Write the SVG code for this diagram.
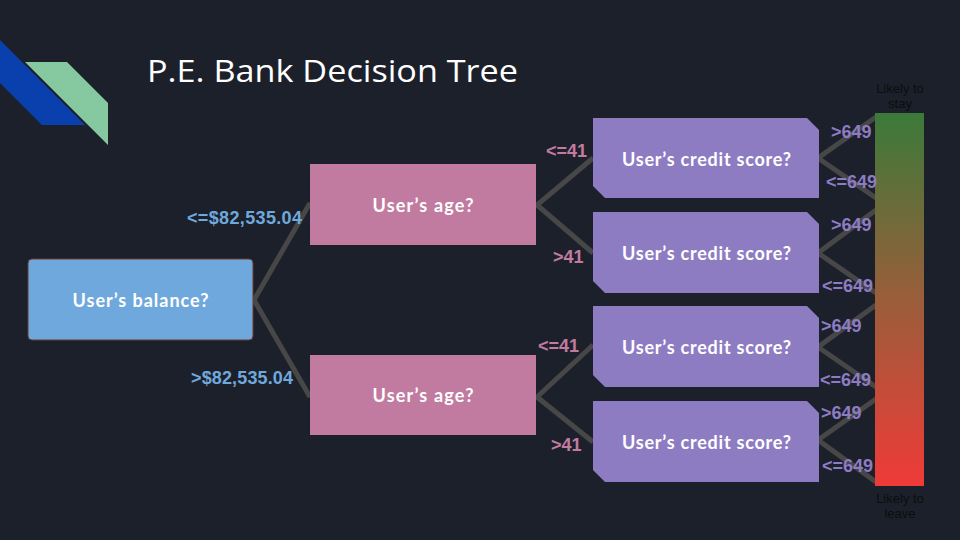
<svg xmlns="http://www.w3.org/2000/svg" width="960" height="540" viewBox="0 0 960 540">
<defs>
<linearGradient id="bar" x1="0" y1="0" x2="0" y2="1">
<stop offset="0" stop-color="#3b7a3a"/>
<stop offset="0.5" stop-color="#9a5e3a"/>
<stop offset="1" stop-color="#f03a38"/>
</linearGradient>
<style>
.node{font-family:Lato,"Open Sans",sans-serif;font-weight:bold;font-size:18px;fill:#ffffff;text-anchor:middle}
.lbl{font-family:"Liberation Sans",Arial,sans-serif;font-weight:bold;font-size:18px}
.blue{fill:#6fa8dc}
.pink{fill:#c27ba0}
.purp{fill:#8e7cc3}
.conn{fill:none;stroke:#474747;stroke-width:5;stroke-linejoin:miter}
.note{font-family:"Liberation Sans",Arial,sans-serif;font-size:13px;fill:#0c0d10;text-anchor:middle}
</style>
</defs>
<rect width="960" height="540" fill="#1c202a"/>
<polygon points="0,40 85,125 42,125 0,83" fill="#0a3fae"/>
<polygon points="25,62 67,62 108,103 108,145" fill="#86c9a0"/>
<text x="147" y="82" font-family="'Open Sans',sans-serif" font-size="31" fill="#ffffff" textLength="371" lengthAdjust="spacingAndGlyphs">P.E. Bank Decision Tree</text>

<g id="connectors">
<polyline class="conn" points="310,203 254,300 310,397"/>
<polyline class="conn" points="593,158 537,205 593,253"/>
<polyline class="conn" points="593,345 537,397 593,442"/>
<polyline class="conn" points="876,117 818,158 876,198"/>
<polyline class="conn" points="876,210 818,253 876,293"/>
<polyline class="conn" points="876,305 818,347 876,387"/>
<polyline class="conn" points="876,399 818,440 876,482"/>
</g>

<g id="balance">
<rect x="28" y="259" width="225" height="81" rx="4" fill="#6fa8dc" stroke="#6b3a2c" stroke-width="1"/>
<text class="node" x="140.5" y="307" textLength="136">User’s balance?</text>
</g>
<g id="age1">
<rect x="310" y="164" width="226" height="81" fill="#c27ba0"/>
<text class="node" x="423" y="212" textLength="101">User’s age?</text>
</g>
<g id="age2">
<rect x="310" y="355" width="226" height="80" fill="#c27ba0"/>
<text class="node" x="423" y="402" textLength="101">User’s age?</text>
</g>
<g id="credit1">
<path d="M593,118 H807 L819,130 V198 H605 L593,186 Z" fill="#8e7cc3"/>
<text class="node" x="706.5" y="166" textLength="169">User’s credit score?</text>
</g>
<g id="credit2">
<path d="M593,212 H807 L819,224 V293 H605 L593,281 Z" fill="#8e7cc3"/>
<text class="node" x="706.5" y="260" textLength="169">User’s credit score?</text>
</g>
<g id="credit3">
<path d="M593,306 H807 L819,318 V387 H605 L593,375 Z" fill="#8e7cc3"/>
<text class="node" x="706.5" y="354" textLength="169">User’s credit score?</text>
</g>
<g id="credit4">
<path d="M593,401 H807 L819,413 V482 H605 L593,470 Z" fill="#8e7cc3"/>
<text class="node" x="706.5" y="449" textLength="169">User’s credit score?</text>
</g>

<g id="scale">
<rect x="875" y="113" width="49" height="373" fill="url(#bar)"/>
<text class="note" x="900" y="93">Likely to</text>
<text class="note" x="900" y="108">stay</text>
<text class="note" x="900" y="503">Likely to</text>
<text class="note" x="900" y="518">leave</text>
</g>

<g id="labels">
<text class="lbl blue" x="187" y="224" textLength="115">&lt;=$82,535.04</text>
<text class="lbl blue" x="191" y="384" textLength="102">&gt;$82,535.04</text>
<text class="lbl pink" x="546" y="157">&lt;=41</text>
<text class="lbl pink" x="553" y="263">&gt;41</text>
<text class="lbl pink" x="538" y="352">&lt;=41</text>
<text class="lbl pink" x="551" y="451">&gt;41</text>
<text class="lbl purp" x="831" y="138">&gt;649</text>
<text class="lbl purp" x="826" y="188">&lt;=649</text>
<text class="lbl purp" x="831" y="231">&gt;649</text>
<text class="lbl purp" x="822" y="292">&lt;=649</text>
<text class="lbl purp" x="821" y="332">&gt;649</text>
<text class="lbl purp" x="820" y="386">&lt;=649</text>
<text class="lbl purp" x="821" y="419">&gt;649</text>
<text class="lbl purp" x="822" y="472">&lt;=649</text>
</g>
</svg>
